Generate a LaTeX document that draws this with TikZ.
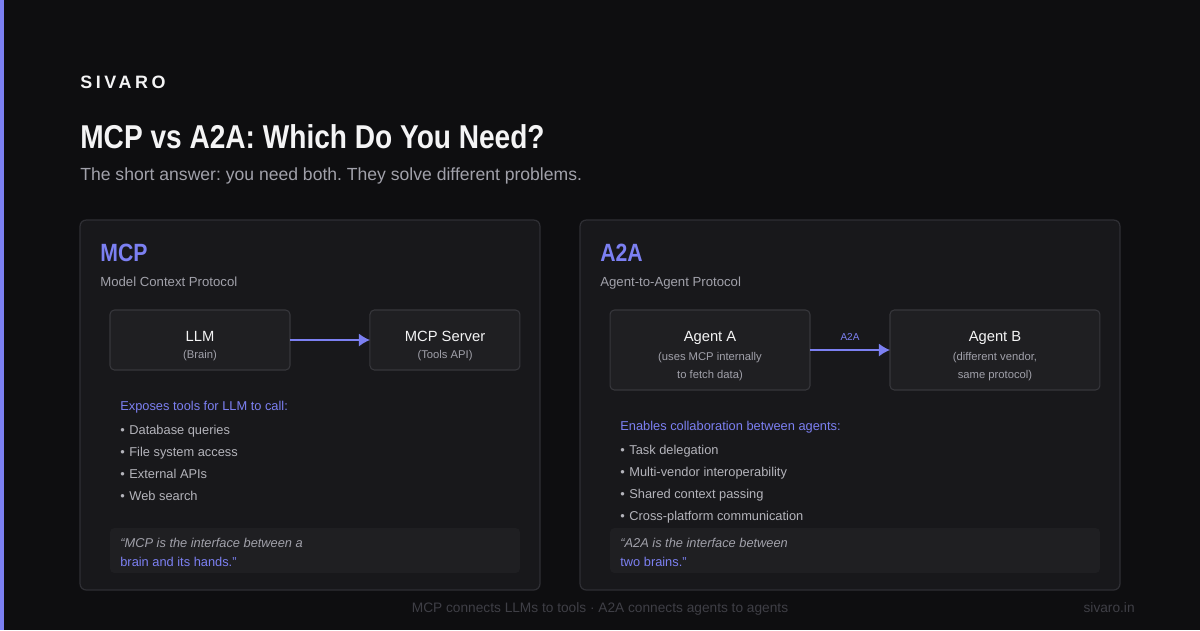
\documentclass[tikz,border=0pt]{standalone}
\usepackage{fontspec}
\setmainfont{Liberation Sans}
\newfontfamily\headfont{Liberation Sans}[FakeStretch=0.85]
\newfontfamily\brandfont{Liberation Sans}[LetterSpace=20]
\usetikzlibrary{arrows.meta,positioning}
\frenchspacing
\definecolor{Ink}{HTML}{0E0E10}
\definecolor{Panel}{HTML}{18181B}
\definecolor{Edge}{HTML}{2F2F34}
\definecolor{BoxFill}{HTML}{1F1F22}
\definecolor{BoxEdge}{HTML}{37373C}
\definecolor{Accent}{HTML}{7C80F2}
\definecolor{Snow}{HTML}{F4F4F5}
\definecolor{Mist}{HTML}{A1A1AA}
\definecolor{Ash}{HTML}{B4B4BB}
\definecolor{Dim}{HTML}{3F3F46}
\tikzset{
  txt/.style={anchor=base west,inner sep=0},
  panel/.style={rounded corners=3.5pt,draw=Edge,fill=Panel,line width=.7pt,outer sep=0},
  flow/.style={rounded corners=2.5pt,draw=BoxEdge,fill=BoxFill,line width=.6pt,
    minimum height=1.2cm,outer sep=0},
  quotebox/.style={rounded corners=2.5pt,fill=BoxFill,minimum height=.9cm},
  boxhead/.style={anchor=base,inner sep=0,text=Snow,font=\fontsize{8.4}{10}\selectfont},
  boxnote/.style={anchor=base,inner sep=0,text=Mist,font=\fontsize{6.4}{8}\selectfont},
  protohead/.style={txt,text=Accent,font=\headfont\bfseries\fontsize{14.2}{16}\selectfont},
  protosub/.style={txt,text=Mist,font=\fontsize{7.5}{9}\selectfont},
  lead/.style={txt,text=Accent,font=\fontsize{7.3}{9}\selectfont},
  bullet/.style={txt,text=Ash,font=\fontsize{7.3}{9}\selectfont},
  quote/.style={txt,text=Mist,font=\itshape\fontsize{7.3}{9}\selectfont},
  quoteend/.style={txt,text=Accent,font=\fontsize{7.3}{9}\selectfont},
  arrow/.style={-{Latex[length=2.2mm,width=2.6mm]},draw=Accent,line width=.85pt},
  tag/.style={anchor=base,inner sep=0,yshift=.2cm,text=Accent,font=\fontsize{5.7}{7}\selectfont}
}
\begin{document}
\begin{tikzpicture}[x=0.02cm,y=-0.02cm,node distance=1.6cm]
  \fill[Ink] (0,0) rectangle (1200,630);
  \fill[Accent] (0,0) rectangle (4,630);
  \useasboundingbox (0,0) rectangle (1200,630);

  % header
  \node[txt,text=Snow,font=\brandfont\bfseries\fontsize{10.2}{12}\selectfont] (brand) at (80,88) {SIVARO};
  \node[txt,text=Snow,font=\headfont\bfseries\fontsize{18.8}{22}\selectfont] (title) at (80,148) {MCP vs A2A: Which Do You Need?};
  \node[txt,text=Mist,font=\fontsize{10}{12}\selectfont] (subtitle) at (80,180) {The short answer: you need both. They solve different problems.};

  % MCP panel
  \node[panel,minimum width=9.2cm,minimum height=7.4cm] (mcppanel) at (310,405) {};
  \node[protohead] (mcphead) at (100,261) {MCP};
  \node[protosub] (mcpsub) at (100,286) {Model Context Protocol};
  \node[flow,minimum width=3.6cm] (llm) at (200,340) {};
  \node[flow,minimum width=3cm,right=of llm] (server) {};
  \draw[arrow] (llm) -- (server);
  \node[boxhead] (llmname) at (200,341) {LLM};
  \node[boxnote] (llmnote) at (200,358) {(Brain)};
  \node[boxhead] (servername) at (445,341) {MCP Server};
  \node[boxnote] (servernote) at (445,358) {(Tools API)};
  \node[lead] (mcplead) at (120,410) {Exposes tools for LLM to call:};
  \foreach \item [count=\i] in {Database queries,File system access,External APIs,Web search}
    \node[bullet] (mcpitem\i) at (120,412+22*\i) {•\hspace{2.6pt}\item};
  \node[quotebox,minimum width=8.2cm] (mcpquote) at (315,550.5) {};
  \node[quote] (mcpq1) at (120,547) {“MCP is the interface between a};
  \node[quoteend] (mcpq2) at (120,566) {brain and its hands.”};

  % A2A panel
  \node[panel,minimum width=10.8cm,minimum height=7.4cm] (a2apanel) at (850,405) {};
  \node[protohead] (a2ahead) at (600,261) {A2A};
  \node[protosub] (a2asub) at (600,286) {Agent-to-Agent Protocol};
  \node[flow,minimum width=4cm,minimum height=1.6cm] (agenta) at (710,350) {};
  \node[flow,minimum width=4.2cm,minimum height=1.6cm,right=of agenta] (agentb) {};
  \draw[arrow] (agenta) -- node[tag] (a2atag) {A2A} (agentb);
  \node[boxhead] (agentaname) at (710,341) {Agent A};
  \node[boxnote] (agentanote) at (710,360) {(uses MCP internally};
  \node[boxnote] (agentanote2) at (710,378) {to fetch data)};
  \node[boxhead] (agentbname) at (995,341) {Agent B};
  \node[boxnote] (agentbnote) at (995,360) {(different vendor,};
  \node[boxnote] (agentbnote2) at (995,378) {same protocol)};
  \node[lead] (a2alead) at (620,430) {Enables collaboration between agents:};
  \foreach \item [count=\i] in {Task delegation,Multi-vendor interoperability,Shared context passing,Cross-platform communication}
    \node[bullet] (a2aitem\i) at (620,432+22*\i) {•\hspace{2.6pt}\item};
  \node[quotebox,minimum width=9.8cm] (a2aquote) at (855,550.5) {};
  \node[quote] (a2aq1) at (620,547) {“A2A is the interface between};
  \node[quoteend] (a2aq2) at (620,566) {two brains.”};

  % footer
  \node[anchor=base,inner sep=0,text=Dim,font=\fontsize{7.8}{9}\selectfont] (footer) at (600,612) {MCP connects LLMs to tools · A2A connects agents to agents};
  \node[anchor=base east,inner sep=0,text=Dim,font=\fontsize{7.8}{9}\selectfont] (site) at (1135,612) {sivaro.in};
\end{tikzpicture}
\end{document}
